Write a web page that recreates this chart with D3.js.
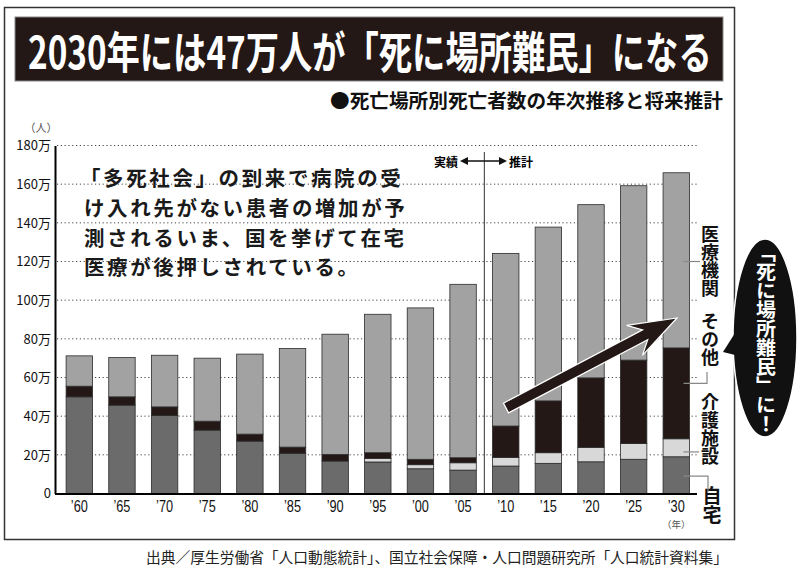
<!DOCTYPE html>
<html><head><meta charset="utf-8">
<script src="https://cdn.jsdelivr.net/npm/d3@7"></script>
<style>body{margin:0;background:#fff}svg{display:block}</style>
</head><body>
<svg id="c" width="800" height="574"></svg>
<script>
// ---- data (万人) ----
const years   = ["’60","’65","’70","’75","’80","’85","’90","’95","’00","’05","’10","’15","’20","’25","’30"];
const home    = [50.0,45.7,40.4,32.8,27.1,20.8,16.8,16.3,12.8,12.1,14.2,15.6,16.4,17.7,19.0];
const care    = [0,0,0,0,0,0,0,1.9,2.1,3.8,4.5,5.5,7.5,8.2,9.3];
const other   = [5.5,4.3,4.4,4.6,3.6,3.2,3.4,2.9,2.8,2.6,16.2,26.8,35.9,43.1,47.0];
const medical = [15.7,20.3,26.7,32.6,41.4,51.0,62.2,71.6,78.3,89.7,89.3,89.9,89.6,90.2,90.6];
const seriesKeys   = ["home","care","other","medical"];
const seriesLabels = ["自宅","介護施設","その他","医療機関"];
const yTicks = [0,20,40,60,80,100,120,140,160,180];
const yTickLabels = ["0","20万","40万","60万","80万","100万","120万","140万","160万","180万"];
const leaderVals = [9, 21.5, 57, 120];   // where the label leaders touch the '30 bar

const title = "2030年には47万人が「死に場所難民」になる";
const subtitle = "●死亡場所別死亡者数の年次推移と将来推計";
const note = ["「多死社会」の到来で病院の受","け入れ先がない患者の増加が予","測されるいま、国を挙げて在宅","医療が後押しされている。"];
const source = "出典／厚生労働省「人口動態統計」、国立社会保障・人口問題研究所「人口統計資料集」";
const callout = "「死に場所難民」に！";

const colors = {home:"#6b6b6b", care:"#d8d8d8", other:"#231815", medical:"#a2a2a2"};
const FONT = "'Noto Sans CJK JP','Noto Sans',sans-serif";

const svg = d3.select("#c").style("font-family", FONT);

// frame
svg.append("rect").attr("x",4.5).attr("y",7.5).attr("width",730).attr("height",532)
  .attr("fill","#fff").attr("stroke","#333").attr("stroke-width",1.5);

// title banner (condensed via horizontal scale)
svg.append("rect").attr("x",15).attr("y",17).attr("width",708).attr("height",64)
  .attr("fill","#231815").attr("stroke","#888").attr("stroke-width",1);
const tt = svg.append("text").attr("x",0).attr("y",0).attr("dominant-baseline","central")
  .attr("font-size",44).attr("font-weight",700).attr("fill","#fff").text(title);
const tw = tt.node().getComputedTextLength();
tt.attr("transform",`translate(28,50) scale(${684/tw},1)`);

svg.append("text").attr("x",723).attr("y",99).attr("dominant-baseline","central")
  .attr("text-anchor","end").attr("font-size",19).attr("font-weight",700).attr("fill","#111")
  .attr("textLength",393).attr("lengthAdjust","spacingAndGlyphs").text(subtitle);

// scales
const x = d3.scaleBand().domain(years).range([58, 697.6]).paddingInner(0.38).paddingOuter(0.19);
const y = d3.scaleLinear().domain([0,180]).range([493.5,145.5]);

// gridlines
svg.append("g").selectAll("line").data(yTicks.slice(1)).join("line")
  .attr("x1",57).attr("x2",697).attr("y1",d=>y(d)).attr("y2",d=>y(d))
  .attr("stroke","#444").attr("stroke-width",1).attr("stroke-dasharray","1.2,2.6");

// y axis
const yAxis = d3.axisLeft(y).tickValues(yTicks).tickFormat((d,i)=>yTickLabels[i]).tickSize(0).tickPadding(4);
const gy = svg.append("g").attr("transform","translate(55,0)").call(yAxis);
gy.select(".domain").attr("stroke","#000").attr("stroke-width",2);
gy.selectAll("text").attr("font-size",13).attr("fill","#111").style("font-family",FONT);
svg.append("text").attr("x",41).attr("y",127).attr("text-anchor","middle").attr("dominant-baseline","central")
  .attr("font-size",11).attr("fill","#555").text("（人）");

// stacked bars
const rows = years.map((yr,i)=>({year:yr, home:home[i], care:care[i], other:other[i], medical:medical[i]}));
const stacked = d3.stack().keys(seriesKeys)(rows);
svg.append("g").selectAll("g").data(stacked).join("g")
  .attr("fill",d=>colors[d.key])
  .selectAll("rect").data(d=>d.filter(s=>s[1]-s[0]>0)).join("rect")
  .attr("x",d=>x(d.data.year)).attr("width",x.bandwidth())
  .attr("y",d=>y(d[1])).attr("height",d=>y(d[0])-y(d[1]))
  .attr("stroke","#2b2b2b").attr("stroke-width",0.8);

// x axis
const xAxis = d3.axisBottom(x).tickSize(0).tickPadding(7);
const gx = svg.append("g").attr("transform","translate(0,494)").call(xAxis);
gx.select(".domain").attr("d","M55,0H697").attr("stroke","#000").attr("stroke-width",2);
gx.selectAll("text").attr("font-size",16).attr("fill","#111").style("font-family","'Liberation Sans',sans-serif")
  .attr("textLength",17).attr("lengthAdjust","spacingAndGlyphs");
svg.append("text").attr("x",x("’30")+x.bandwidth()/2).attr("y",524).attr("text-anchor","middle")
  .attr("dominant-baseline","central").attr("font-size",9.5).attr("fill","#555").text("（年）");

// actual / projection divider
const divX = (x("’05")+x.bandwidth() + x("’10"))/2;
svg.append("line").attr("x1",divX).attr("x2",divX).attr("y1",152).attr("y2",493)
  .attr("stroke","#555").attr("stroke-width",1.2);
svg.append("text").attr("x",458).attr("y",161).attr("text-anchor","end").attr("dominant-baseline","central")
  .attr("font-size",12).attr("font-weight",700).text("実績");
svg.append("text").attr("x",509).attr("y",161).attr("text-anchor","start").attr("dominant-baseline","central")
  .attr("font-size",12).attr("font-weight",700).text("推計");
svg.append("line").attr("x1",466).attr("x2",500).attr("y1",161).attr("y2",161).attr("stroke","#111").attr("stroke-width",1.3);
svg.append("path").attr("d","M460,161l8,-4v8z").attr("fill","#111");
svg.append("path").attr("d","M507,161l-8,-4v8z").attr("fill","#111");

// note text
svg.append("g").selectAll("text").data(note).join("text")
  .attr("x",(d,i)=>i===0?80:84).attr("y",(d,i)=>177+i*29.8).attr("dominant-baseline","central")
  .attr("font-size",20.5).attr("letter-spacing",2.6).attr("font-weight",700).attr("fill","#1a1a1a").text(d=>d);

// big arrow
(function(){
  const x0=506,y0=408,x1=677,y1=318;
  const dx=x1-x0, dy=y1-y0, L=Math.hypot(dx,dy), ux=dx/L, uy=dy/L, nx=-uy, ny=ux;
  const w=5.5, hb=48, hw=17, hn=36;
  const P=(a,b)=>[x1-ux*a+nx*b, y1-uy*a+ny*b];
  const pts=[[x0+nx*w,y0+ny*w],P(hn,w),P(hb,hw),[x1,y1],P(hb,-hw),P(hn,-w),[x0-nx*w,y0-ny*w]];
  svg.append("path").attr("d","M"+pts.map(p=>p.join(",")).join("L")+"Z")
    .attr("fill","#231815").attr("stroke","#fff").attr("stroke-width",1.2);
})();

// legend labels (vertical) + leaders
const lx = x("’30")+x.bandwidth()-6;
const labelPos = [{top:486,cx:712,size:19},{top:393,cx:710,size:18},{top:312,cx:710,size:18},{top:225,cx:710,size:18}];
seriesLabels.forEach((lab,i)=>{
  svg.append("text").attr("x",labelPos[i].cx).attr("y",labelPos[i].top)
    .style("writing-mode","vertical-rl").attr("text-anchor","start")
    .attr("font-size",labelPos[i].size).attr("font-weight",700).attr("fill","#111").text(lab);
});
function leader(d){svg.append("path").attr("d",d).attr("stroke","#888").attr("stroke-width",1.2).attr("fill","none");}
leader(`M${lx},${y(leaderVals[0])}H708V492`);
leader(`M${lx},${y(leaderVals[1])}H699`);
leader(`M${lx},${y(leaderVals[2])}H707V372`);
leader(`M${lx},${y(leaderVals[3])}H700`);

// callout bubble
svg.append("ellipse").attr("cx",765).attr("cy",338).attr("rx",32).attr("ry",99)
  .attr("fill","#111").attr("stroke","#fff").attr("stroke-width",1.5);
svg.append("path").attr("d","M742,322L723,352L747,358Z").attr("fill","#111");
svg.append("text").attr("x",766).attr("y",243).attr("text-anchor","start")
  .style("writing-mode","vertical-rl").attr("font-size",20).attr("font-weight",700).attr("fill","#fff")
  .attr("textLength",190).attr("lengthAdjust","spacingAndGlyphs")
  .text(callout);

// source
svg.append("text").attr("x",146).attr("y",556).attr("dominant-baseline","central")
  .attr("font-size",15).attr("fill","#222").attr("textLength",582).attr("lengthAdjust","spacingAndGlyphs")
  .text(source);
</script>
</body></html>
